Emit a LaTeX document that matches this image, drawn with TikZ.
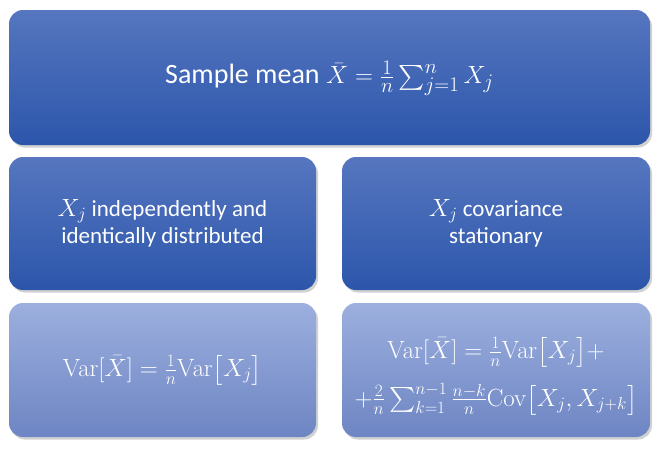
\documentclass[tikz,border=0pt]{standalone}
\usepackage{amsmath}
\usepackage[no-math]{fontspec}
\setmainfont{Carlito}
\begin{document}
\begin{tikzpicture}[x=1pt,y=-1pt,
  box/.style={rounded corners=14pt},
  dark/.style={box, top color=topA, bottom color=botA},
  light/.style={box, top color=topB, bottom color=botB},
  shadowbox/.style={box, fill=black, opacity=0.18},
  lbl/.style={text=white, align=center, inner sep=0pt},
  mid/.style={lbl, font=\fontsize{23}{27}\selectfont},
  eq/.style={lbl, font=\fontsize{24.5}{30}\selectfont}]
\definecolor{topA}{HTML}{5676BF}
\definecolor{botA}{HTML}{2C56AB}
\definecolor{topB}{HTML}{9CAFDE}
\definecolor{botB}{HTML}{6D85C3}
\useasboundingbox[fill=white] (0,0) rectangle (661,450);
% shadows
\foreach \a/\b/\c/\d in {9/10/650/145, 9/157/316/290, 342/157/650/290, 9/303/316/437, 342/303/650/437}{
  \fill[shadowbox] (\a+2,\b+2.5) rectangle (\c+2,\d+2.5);
}
\path[dark] (9,10) rectangle (650,145);
\path[dark] (9,157) rectangle (316,290);
\path[dark] (342,157) rectangle (650,290);
\path[light] (9,303) rectangle (316,437);
\path[light] (342,303) rectangle (650,437);
\node[lbl, font=\fontsize{28}{34}\selectfont] (top) at (329.5,78)
  {Sample mean $\bar{X}=\tfrac{1}{n}\sum_{j=1}^{n}X_j$};
\node[mid] (ml) at (162.5,223)
  {$X_j$ independently and\\identically distributed};
\node[mid] (mr) at (496,223)
  {$X_j$ covariance\\stationary};
\node[eq] (bl) at (162.5,370)
  {$\mathrm{Var}[\bar{X}]=\tfrac{1}{n}\mathrm{Var}\bigl[X_j\bigr]$};
\node[eq] (br1) at (496,352)
  {$\mathrm{Var}[\bar{X}]=\tfrac{1}{n}\mathrm{Var}\bigl[X_j\bigr]+$};
\node[eq] (br2) at (496,399)
  {$+\tfrac{2}{n}\textstyle\sum_{k=1}^{n-1}\tfrac{n-k}{n}\mathrm{Cov}\bigl[X_j,X_{j+k}\bigr]$};
\end{tikzpicture}
\end{document}
